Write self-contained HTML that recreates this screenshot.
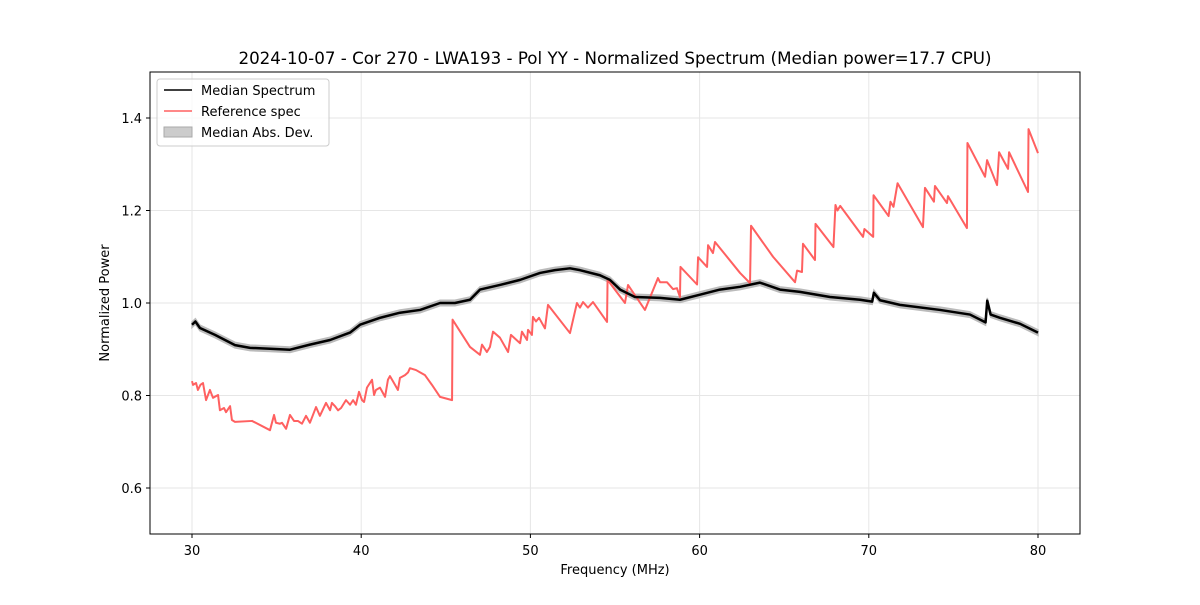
<!DOCTYPE html>
<html><head><meta charset="utf-8"><style>
body{margin:0;background:#fff;font-family:"Liberation Sans","DejaVu Sans",sans-serif}
svg text{font-family:"DejaVu Sans","Liberation Sans",sans-serif}
</style></head><body>
<svg id="chart" width="1200" height="600" xmlns="http://www.w3.org/2000/svg">
<rect width="1200" height="600" fill="#fff"/>
<g id="grid"></g>
<g id="series"></g>
<rect x="150" y="72" width="930" height="462" fill="none" stroke="#000" stroke-width="1"/>
<g id="axes"></g>
<text x="615" y="64" text-anchor="middle" font-size="16.7">2024-10-07 - Cor 270 - LWA193 - Pol YY - Normalized Spectrum (Median power=17.7 CPU)</text>
<text x="615" y="574" text-anchor="middle" font-size="13">Frequency (MHz)</text>
<text x="109" y="303" text-anchor="middle" font-size="13" transform="rotate(-90 109 303)">Normalized Power</text>
<g>
<rect x="157" y="79" width="172" height="67" rx="3" fill="#fff" fill-opacity="0.8" stroke="#ccc"/>
<g><line x1="164" y1="90" x2="192" y2="90" stroke="#000" stroke-width="1.5"/><text x="201" y="95" font-size="13">Median Spectrum</text></g>
<g><line x1="164" y1="111" x2="192" y2="111" stroke="#ff6060" stroke-width="1.5"/><text x="201" y="116" font-size="13">Reference spec</text></g>
<g><rect x="164" y="127" width="28" height="10" fill="#ccc" stroke="#aaa"/><text x="201" y="137" font-size="13">Median Abs. Dev.</text></g>
</g>
</svg>
<script>
const xTicks=[30,40,50,60,70,80];
const yTicks=[0.6,0.8,1.0,1.2,1.4];
const yTickLabels=["0.6","0.8","1.0","1.2","1.4"];
const refFreq=[30,30.06,30.24,30.35,30.5,30.65,30.83,31.06,31.24,31.54,31.65,31.89,32.01,32.25,32.36,32.54,33.55,34.61,34.85,34.96,35.2,35.32,35.56,35.79,36.03,36.26,36.5,36.74,36.97,37.33,37.56,37.92,38.16,38.27,38.45,38.63,38.81,39.1,39.34,39.52,39.69,39.87,40.05,40.17,40.34,40.64,40.76,40.87,41.11,41.41,41.58,41.7,42.0,42.17,42.29,42.59,42.77,42.88,43.24,43.48,43.77,44.18,44.66,45.37,45.40,46.43,47.02,47.14,47.43,47.61,47.79,48.20,48.68,48.85,49.39,49.50,49.80,49.86,50.09,50.15,50.33,50.51,50.86,51.04,52.34,52.75,52.93,53.11,53.40,53.70,54.53,54.56,55.59,55.77,56.77,57.54,57.66,58.07,58.43,58.66,58.84,58.87,59.85,59.91,60.44,60.50,60.79,60.91,62.39,62.98,63.04,64.34,65.64,65.76,66.05,66.11,66.82,66.85,67.91,68.03,68.15,68.31,69.66,69.74,70.26,70.28,71.17,71.28,71.46,71.70,73.20,73.32,73.85,73.91,74.62,74.68,75.80,75.83,76.87,76.99,77.58,77.70,78.23,78.29,79.41,79.44,80];
const refValue=[.831,.823,.827,.812,.823,.827,.790,.812,.795,.801,.768,.773,.764,.777,.747,.743,.745,.725,.758,.741,.739,.741,.728,.758,.745,.745,.739,.756,.741,.775,.756,.784,.768,.784,.777,.768,.773,.790,.780,.790,.780,.808,.790,.786,.817,.834,.801,.812,.817,.797,.834,.842,.823,.812,.838,.844,.850,.859,.855,.850,.844,.823,.797,.790,.964,.905,.888,.910,.894,.905,.938,.925,.894,.931,.913,.938,.920,.942,.931,.970,.960,.968,.945,.996,.935,1.0,.99,1.002,.99,1.002,.959,1.05,1.0,1.039,.985,1.054,1.045,1.045,1.03,1.032,1.013,1.078,1.04,1.099,1.078,1.125,1.108,1.132,1.065,1.043,1.167,1.10,1.045,1.07,1.067,1.128,1.093,1.171,1.121,1.212,1.2,1.21,1.143,1.16,1.143,1.233,1.188,1.219,1.208,1.259,1.164,1.249,1.219,1.253,1.216,1.231,1.162,1.346,1.273,1.309,1.255,1.326,1.29,1.326,1.240,1.376,1.324];
const medFreq=[30,30.2,30.47,31.36,32.54,33.43,34.61,35.79,36.97,38.16,39.34,39.93,41.11,42.29,43.48,44.66,45.54,46.43,47.02,48.2,49.39,50.57,51.45,52.34,52.93,54.11,54.7,55.3,56.18,57.66,58.84,60.02,61.2,62.39,63.57,64.75,65.93,67.71,69.48,70.2,70.3,70.66,71.84,74.21,75.98,76.9,77.0,77.2,77.75,78.94,80];
const medValue=[.953,.960,.946,.931,.909,.903,.901,.899,.910,.920,.936,.953,.968,.979,.985,1.0,1.0,1.007,1.029,1.039,1.050,1.065,1.071,1.075,1.071,1.060,1.050,1.029,1.013,1.011,1.007,1.018,1.029,1.035,1.044,1.029,1.024,1.013,1.007,1.003,1.022,1.006,.996,.985,.975,.958,1.005,.975,.968,.955,.936];
const madValue=new Array(medValue.length).fill(0.006);
const NS='http://www.w3.org/2000/svg';
const x=f=>192+(f-30)*16.92, y=v=>(765.5-v*462.5);
function mk(t,a,p){const e=document.createElementNS(NS,t);for(const k in a)e.setAttribute(k,a[k]);p.appendChild(e);return e;}
const grid=document.getElementById('grid'),axes=document.getElementById('axes'),ser=document.getElementById('series');
xTicks.forEach(t=>{
 const g=mk('line',{x1:x(t),x2:x(t),y1:72,y2:534,stroke:'#e6e6e6'},grid);
 
 
 mk('line',{x1:x(t),x2:x(t),y1:534,y2:538,stroke:'#000'},axes);
 const l=mk('text',{x:x(t),y:555,'text-anchor':'middle','font-size':13},axes);l.textContent=t;
 
 
});
yTicks.forEach((t,i)=>{
 const g=mk('line',{x1:150,x2:1080,y1:y(t),y2:y(t),stroke:'#e6e6e6'},grid);
 
 
 mk('line',{x1:146,x2:150,y1:y(t),y2:y(t),stroke:'#000'},axes);
 const l=mk('text',{x:142,y:y(t)+5,'text-anchor':'end','font-size':13},axes);l.textContent=yTickLabels[i];
 
 
});
let band='';medFreq.forEach((f,i)=>band+=(i?'L':'M')+x(f)+','+y(medValue[i]+madValue[i]));
for(let i=medFreq.length-1;i>=0;i--)band+='L'+x(medFreq[i])+','+y(medValue[i]-madValue[i]);
const b=mk('path',{d:band+'Z',fill:'#bbb',stroke:'#bbb','stroke-width':1.5},ser);


const rp=mk('path',{d:refFreq.map((f,i)=>(i?'L':'M')+x(f)+','+y(refValue[i])).join(''),fill:'none',stroke:'#ff6060','stroke-width':2,'stroke-linejoin':'round'},ser);


const mp=mk('path',{d:medFreq.map((f,i)=>(i?'L':'M')+x(f)+','+y(medValue[i])).join(''),fill:'none',stroke:'#000','stroke-width':2.5,'stroke-linejoin':'round'},ser);


</script>
</body></html>
